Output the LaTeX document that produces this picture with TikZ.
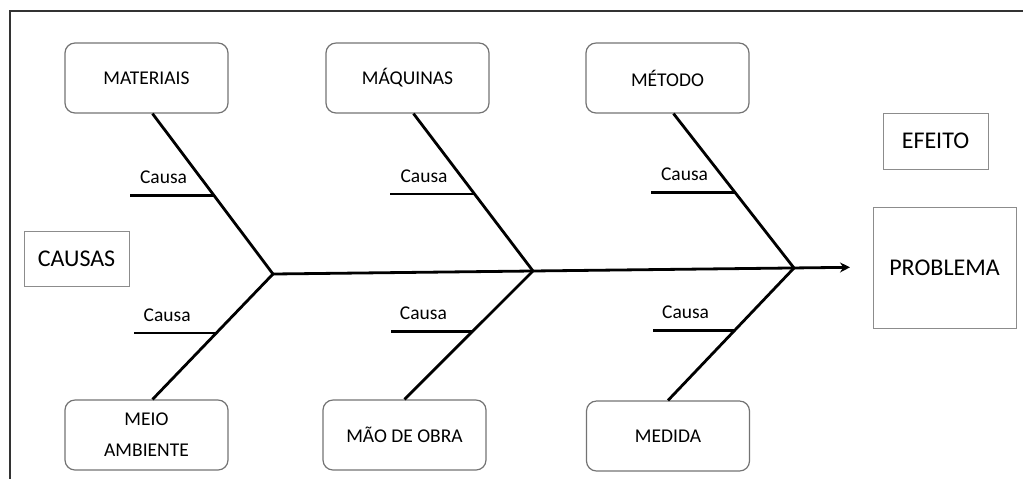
\documentclass[tikz,border=0pt]{standalone}
\usepackage{fontspec}
\setmainfont{Carlito}
\usetikzlibrary{arrows.meta}

\tikzset{
  catbox/.style={draw=black!55, rounded corners=5pt, line width=0.6pt,
    minimum width=81.5pt, minimum height=35pt, align=center,
    font=\fontsize{9.75}{15.5}\selectfont},
  titlebox/.style={draw=black!45, line width=0.5pt, font=\fontsize{12}{14}\selectfont},
  bone/.style={line width=1.4pt},
  rib/.style={line width=1.3pt},
  causelabel/.style={font=\fontsize{9.75}{12}\selectfont, inner sep=0pt, anchor=south, yshift=5pt}
}

\begin{document}
\begin{tikzpicture}[x=0.5pt, y=-0.5pt]
  \useasboundingbox (0,0) rectangle (1023,479);
  % frame
  \draw[line width=0.8pt, black!80] (1023,11) -- (10,11) -- (10,479);

  % categories
  \node[catbox] (mat) at (146.5,78) {MATERIAIS};
  \node[catbox] (maq) at (407.5,78) {MÁQUINAS};
  \node[catbox] (met) at (667.5,78) {MÉTODO};
  \node[catbox] (mei) at (146.5,435) {MEIO\\AMBIENTE};
  \node[catbox] (mao) at (404.5,435) {MÃO DE OBRA};
  \node[catbox] (med) at (668,436) {MEDIDA};

  % titles
  \node[titlebox, minimum width=52.5pt, minimum height=27.5pt] (causas) at (76.5,258.5) {CAUSAS};
  \node[titlebox, minimum width=52.5pt, minimum height=28pt] (efeito) at (935.5,141) {EFEITO};
  \node[titlebox, minimum width=71.5pt, minimum height=60.5pt] (problema) at (944.5,267.5) {PROBLEMA};

  % spine
  \coordinate (j1) at (273,274);
  \coordinate (j2) at (533,271);
  \coordinate (j3) at (794,268);
  \coordinate (tip) at (850,267.3);
  \draw[bone, -{Stealth[length=5pt, width=5pt]}] (j1) -- (tip);

  % upper bones
  \foreach \cat/\junc/\n in {mat/j1/1, maq/j2/2, met/j3/3} {
    \draw[bone] ([xshift=3pt]\cat.south) -- coordinate[pos=0.51] (r\n) (\junc);
    \draw[rib] (r\n) -- node[causelabel, pos=0.6] (lbl\n) {Causa} ++(-84,0);
  }
  % lower bones
  \foreach \cat/\junc/\n/\sh in {mei/j1/4/3pt, mao/j2/5/0pt, med/j3/6/0pt} {
    \draw[bone] ([xshift=\sh]\cat.north) -- coordinate[pos=0.53] (r\n) (\junc);
    \draw[rib] (r\n) -- node[causelabel, pos=0.6] (lbl\n) {Causa} ++(-82,0);
  }
\end{tikzpicture}
\end{document}
